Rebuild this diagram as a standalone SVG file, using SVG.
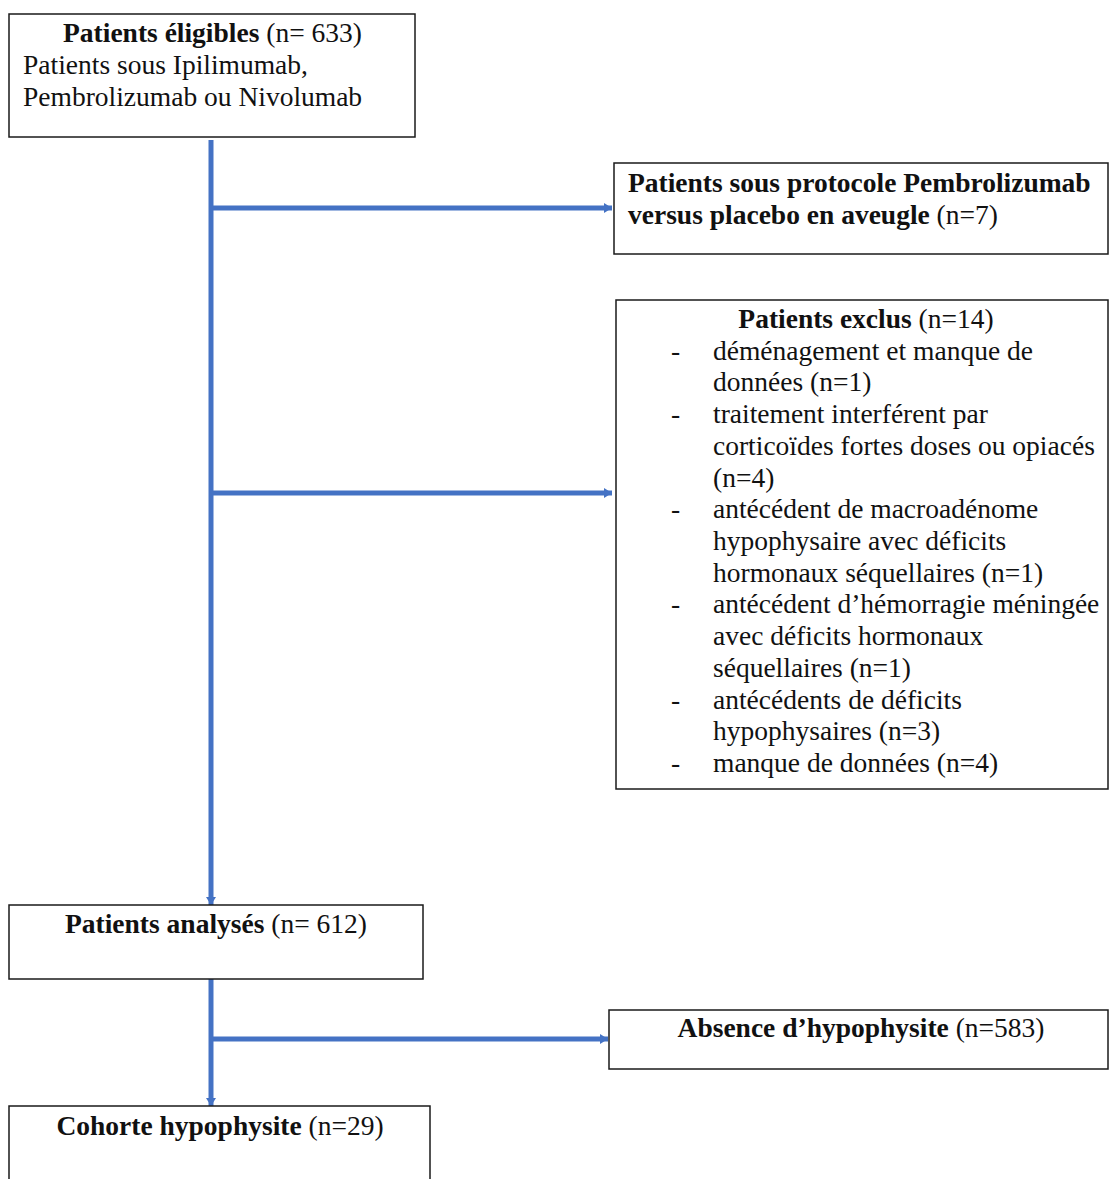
<svg xmlns="http://www.w3.org/2000/svg" width="1109" height="1179" viewBox="0 0 1109 1179">
<style>
.box{fill:#fff;stroke:#1a1a1a;stroke-width:1.5}
text{font-family:"Liberation Serif","Times New Roman",serif;font-size:27.5px;fill:#111}
.b{font-weight:bold}
.c{text-anchor:middle}
.conn{stroke:#4472C4;stroke-width:5;fill:none}
</style>
<defs>
<marker id="arr" markerUnits="userSpaceOnUse" markerWidth="10" markerHeight="12" refX="8" refY="6" orient="auto">
<path d="M0,1 L8,6 L0,11 z" fill="#4472C4"/>
</marker>
</defs>
<g id="connectors">
<line class="conn" x1="211" y1="140" x2="211" y2="905" marker-end="url(#arr)"/>
<line class="conn" x1="211" y1="208" x2="612" y2="208" marker-end="url(#arr)"/>
<line class="conn" x1="211" y1="493" x2="612" y2="493" marker-end="url(#arr)"/>
<line class="conn" x1="211" y1="979" x2="211" y2="1106" marker-end="url(#arr)"/>
<line class="conn" x1="211" y1="1039" x2="608" y2="1039" marker-end="url(#arr)"/>
</g>
<g id="eligibles">
<rect class="box" x="9" y="14" width="406" height="123"/>
<text class="c" x="212.5" y="42"><tspan class="b">Patients éligibles</tspan> (n= 633)</text>
<text x="23" y="74">Patients sous Ipilimumab,</text>
<text x="23" y="106">Pembrolizumab ou Nivolumab</text>
</g>
<g id="protocole">
<rect class="box" x="614" y="163" width="494" height="91"/>
<text x="628" y="192" class="b">Patients sous protocole Pembrolizumab</text>
<text x="628" y="224"><tspan class="b">versus placebo en aveugle</tspan> (n=7)</text>
</g>
<g id="exclus">
<rect class="box" x="616" y="300" width="492" height="489"/>
<text class="c" x="866" y="328"><tspan class="b">Patients exclus</tspan> (n=14)</text>
<text x="671" y="360">-</text><text x="713" y="360">déménagement et manque de</text>
<text x="713" y="391">données (n=1)</text>
<text x="671" y="423">-</text><text x="713" y="423">traitement interférent par</text>
<text x="713" y="455">corticoïdes fortes doses ou opiacés</text>
<text x="713" y="487">(n=4)</text>
<text x="671" y="518">-</text><text x="713" y="518">antécédent de macroadénome</text>
<text x="713" y="550">hypophysaire avec déficits</text>
<text x="713" y="582">hormonaux séquellaires (n=1)</text>
<text x="671" y="613">-</text><text x="713" y="613">antécédent d’hémorragie méningée</text>
<text x="713" y="645">avec déficits hormonaux</text>
<text x="713" y="677">séquellaires (n=1)</text>
<text x="671" y="709">-</text><text x="713" y="709">antécédents de déficits</text>
<text x="713" y="740">hypophysaires (n=3)</text>
<text x="671" y="772">-</text><text x="713" y="772">manque de données (n=4)</text>
</g>
<g id="analyses">
<rect class="box" x="9" y="905" width="414" height="74"/>
<text class="c" x="216" y="933"><tspan class="b">Patients analysés</tspan> (n= 612)</text>
</g>
<g id="absence">
<rect class="box" x="609" y="1010" width="499" height="59"/>
<text class="c" x="861" y="1037"><tspan class="b">Absence d’hypophysite</tspan> (n=583)</text>
</g>
<g id="cohorte">
<rect class="box" x="9" y="1106" width="421" height="90"/>
<text class="c" x="220" y="1135"><tspan class="b">Cohorte hypophysite</tspan> (n=29)</text>
</g>
</svg>
